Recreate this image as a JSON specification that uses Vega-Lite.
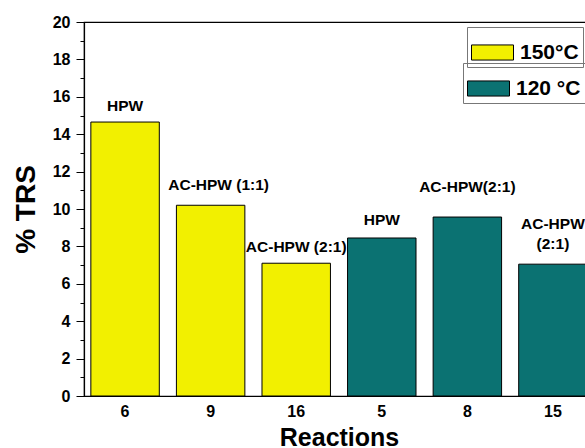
{
  "$schema": "https://vega.github.io/schema/vega-lite/v6.json",
  "width": 510,
  "height": 374,
  "padding": {"left": 12, "top": 14, "right": 0, "bottom": 0},
  "autosize": {"type": "pad"},
  "config": {
    "font": "Liberation Sans",
    "view": {"stroke": "black", "strokeWidth": 1.2},
    "legend": {
      "orient": "none",
      "strokeColor": "#777",
      "padding": 4,
      "title": null,
      "labelFontSize": 21,
      "labelFontWeight": "bold",
      "labelColor": "black",
      "labelFont": "Liberation Sans",
      "labelOffset": 6,
      "symbolType": "M-1,-0.36H1V0.36H-1Z",
      "symbolSize": 1764,
      "symbolStrokeColor": "black",
      "symbolStrokeWidth": 1,
      "symbolOpacity": 1
    }
  },
  "data": {
    "values": [
      {"reaction": "6", "trs": 14.65, "temp": "150°C", "label": "HPW"},
      {"reaction": "9", "trs": 10.2, "temp": "150°C", "label": "AC-HPW (1:1)"},
      {"reaction": "16", "trs": 7.1, "temp": "150°C", "label": "AC-HPW (2:1)"},
      {"reaction": "5", "trs": 8.45, "temp": "120 °C", "label": "HPW"},
      {"reaction": "8", "trs": 9.57, "temp": "120 °C", "label": "AC-HPW(2:1)"},
      {"reaction": "15", "trs": 7.05, "temp": "120 °C", "label": "AC-HPW\n(2:1)"}
    ]
  },
  "encoding": {
    "x": {
      "field": "reaction",
      "type": "nominal",
      "scale": {"domain": ["6", "9", "16", "5", "8", "15"], "paddingInner": 0.2, "paddingOuter": 0.08},
      "axis": {
        "title": "Reactions",
        "titleFontSize": 25,
        "titleFontWeight": "bold",
        "titleColor": "black",
        "titlePadding": 6,
        "labelAngle": 0,
        "labelFontSize": 16,
        "labelFontWeight": "bold",
        "labelColor": "black",
        "labelPadding": 7,
        "ticks": false,
        "domainColor": "black",
        "domainWidth": 1.2
      }
    },
    "y": {
      "field": "trs",
      "type": "quantitative",
      "scale": {"domain": [0, 20], "nice": false},
      "axis": {
        "title": "% TRS",
        "titleFontSize": 28,
        "titleFontWeight": "bold",
        "titleColor": "black",
        "titlePadding": 12,
        "values": [0,1,2,3,4,5,6,7,8,9,10,11,12,13,14,15,16,17,18,19,20],
        "labelExpr": "datum.value % 2 === 0 ? datum.label : ''",
        "labelFontSize": 16,
        "labelFontWeight": "bold",
        "labelColor": "black",
        "labelPadding": 6,
        "tickSize": {"condition": {"test": "datum.value % 2 === 0", "value": 8}, "value": 4},
        "tickColor": "black",
        "tickWidth": 1,
        "grid": false,
        "domainColor": "black",
        "domainWidth": 1.2
      }
    }
  },
  "layer": [
    {
      "transform": [{"filter": "datum.temp === '150°C'"}],
      "mark": {"type": "bar", "stroke": "black", "strokeWidth": 1},
      "encoding": {
        "color": {"field": "temp", "type": "nominal", "scale": {"domain": ["150°C"], "range": ["#f2f000"]},
          "legend": {"legendX": 383, "legendY": 5}}
      }
    },
    {
      "transform": [{"filter": "datum.temp === '120 °C'"}],
      "mark": {"type": "bar", "stroke": "black", "strokeWidth": 1},
      "encoding": {
        "color": {"field": "temp", "type": "nominal", "scale": {"domain": ["120 °C"], "range": ["#0b7272"]},
          "legend": {"legendX": 379, "legendY": 41}}
      }
    },
    {
      "transform": [{"filter": "datum.reaction === '6' || datum.reaction === '16'"}],
      "mark": {"type": "text", "baseline": "bottom", "dy": -8, "fontSize": 15.5, "fontWeight": "bold", "color": "black"},
      "encoding": {"text": {"field": "label"}}
    },
    {
      "transform": [{"filter": "datum.reaction === '5'"}],
      "mark": {"type": "text", "baseline": "bottom", "dy": -10, "fontSize": 15.5, "fontWeight": "bold", "color": "black"},
      "encoding": {"text": {"field": "label"}}
    },
    {
      "transform": [{"filter": "datum.reaction === '9'"}],
      "mark": {"type": "text", "baseline": "bottom", "dy": -12, "dx": 8, "fontSize": 15.5, "fontWeight": "bold", "color": "black"},
      "encoding": {"text": {"field": "label"}}
    },
    {
      "transform": [{"filter": "datum.reaction === '8'"}],
      "mark": {"type": "text", "baseline": "bottom", "dy": -22, "fontSize": 15.5, "fontWeight": "bold", "color": "black"},
      "encoding": {"text": {"field": "label"}}
    },
    {
      "transform": [{"filter": "datum.reaction === '15'"}],
      "mark": {"type": "text", "baseline": "bottom", "dy": -32, "fontSize": 15.5, "fontWeight": "bold", "color": "black", "lineBreak": "\n", "lineHeight": 20},
      "encoding": {"text": {"field": "label"}}
    }
  ],
  "resolve": {"scale": {"color": "independent"}}
}
